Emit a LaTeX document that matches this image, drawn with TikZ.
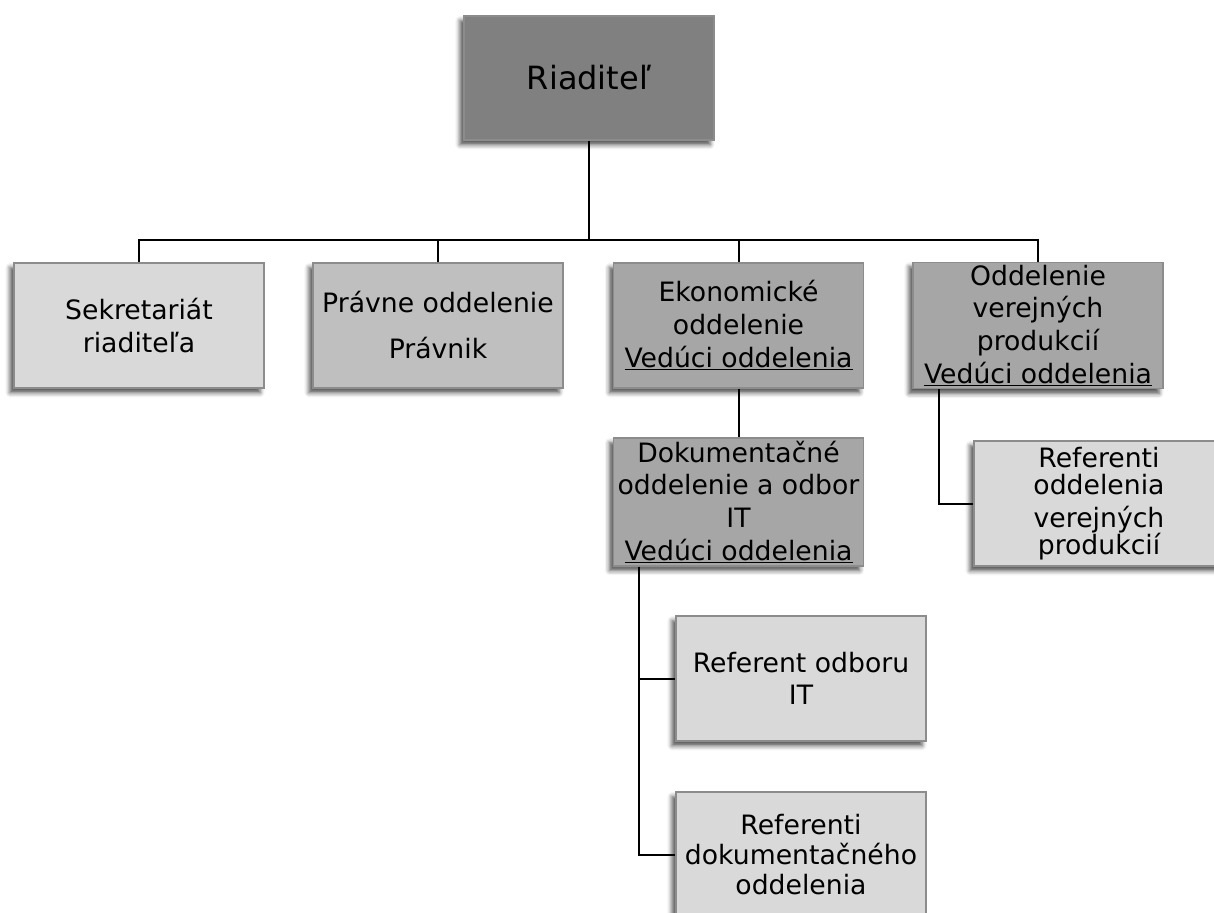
\documentclass[tikz,border=0pt]{standalone}
\usepackage{fontspec}
\setmainfont{DejaVu Sans}
\usetikzlibrary{shadows.blur}
\definecolor{riadfill}{HTML}{808080}
\definecolor{oddfill}{HTML}{A6A6A6}
\definecolor{pravfill}{HTML}{BFBFBF}
\definecolor{reffill}{HTML}{D9D9D9}
\definecolor{boxline}{HTML}{8C8C8C}

\begin{document}
\begin{tikzpicture}[x=0.75pt,y=-0.75pt,
    unit/.style={draw=boxline,line width=1pt,minimum width=187.5pt,minimum height=93.75pt,
      inner sep=2pt,align=center,font=\fontsize{20}{24.5}\selectfont,
      blur shadow={shadow xshift=-3pt,shadow yshift=-3.5pt,shadow blur radius=3.5pt,shadow opacity=70}},
    link/.style={line width=1.5pt}]
    \useasboundingbox (0,0) rectangle (1214,913);
    \node[unit,fill=riadfill,font=\fontsize{24}{28}\selectfont,minimum height=93pt] (riaditel) at (589,78) {Riaditeľ};
    \node[unit,fill=reffill] (sekr) at (139,325.5) {Sekretariát\\riaditeľa};
    \node[unit,fill=pravfill] (pravne) at (438,325.5) {Právne oddelenie\\[10pt]Právnik};
    \node[unit,fill=oddfill] (ekon) at (738.5,325.5) {Ekonomické\\oddelenie\\\underline{Vedúci oddelenia}};
    \node[unit,fill=oddfill] (odd) at (1038,325.5) {Oddelenie\\verejných\\produkcií\\\underline{Vedúci oddelenia}};
    \node[unit,fill=oddfill] (dok) at (738.5,502) {Dokumentačné\\oddelenie a odbor\\IT\\\underline{Vedúci oddelenia}};
    \node[unit,fill=reffill] (refov) at (1099,503.5) {Referenti\\[-4pt]oddelenia\\verejných\\[-4pt]produkcií};
    \node[unit,fill=reffill] (refit) at (801,678.5) {Referent odboru\\IT};
    \node[unit,fill=reffill] (refdok) at (801,854.5) {Referenti\\[-2pt]dokumentačného\\[-2pt]oddelenia};
    \coordinate (bus) at (589,240);
    \draw[link] (riaditel.south) -- (bus);
    \foreach \n in {sekr,pravne,ekon,odd}
        \draw[link] (\n.north) |- (bus);
    \draw[link] (ekon.south) -- (dok.north);
    \draw[link] (odd.south west) ++(27,0) |- (refov.west);
    \draw[link] (dok.south west) ++(26,0) |- (refit.west);
    \draw[link] (dok.south west) ++(26,0) |- (refdok.west);
\end{tikzpicture}
\end{document}
